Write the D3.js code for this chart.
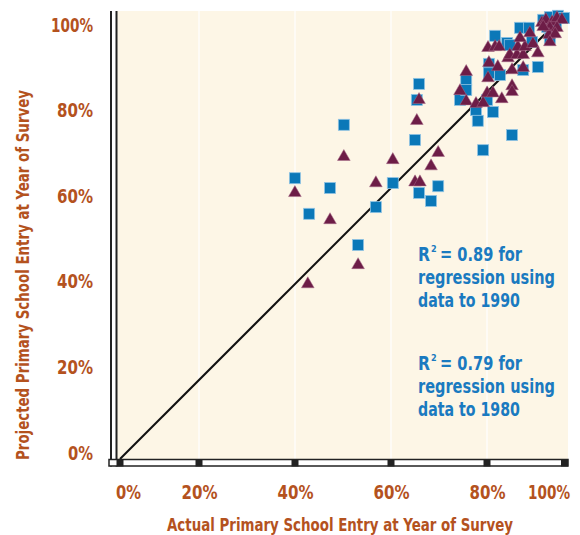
<!doctype html>
<html>
<head>
<meta charset="UTF-8">
<title>Projected vs Actual Primary School Entry</title>
<style>
    body { margin: 0; background: #fff; }
    svg text {
        font-family: "Liberation Sans Narrow", "DejaVu Sans Condensed", "Roboto", sans-serif;
        font-weight: bold;
    }
    .tick text { fill: #b4521e; font-size: 19px; }
    .axis-title { fill: #b4521e; font-size: 17px; }
    .note { fill: #1a7ac0; font-size: 20px; }
    .note.sup { font-size: 9px; }
</style>
</head>
<body>
<svg id="chart" width="580" height="535"></svg>
<script src="https://cdn.jsdelivr.net/npm/d3@7"></script>
<script>
// tick values (percent)
var ticks = [0, 20, 40, 60, 80, 100];

// [actual %, projected %] - regression using data to 1990 (squares)
var squares1990 = [
    [39.3, 63.1], [42.5, 55.1], [47.2, 60.9], [50.3, 75.1], [53.5, 48.1],
    [57.5, 56.6], [61.3, 62.0], [66.3, 71.7], [66.7, 80.7], [67.2, 84.3],
    [67.2, 59.8], [69.9, 58.0], [71.5, 61.3], [76.4, 80.7], [77.8, 85.2],
    [77.8, 82.9], [80.0, 78.4], [80.4, 76.0], [81.6, 69.4], [82.5, 80.7],
    [82.9, 88.8], [82.9, 86.7], [83.8, 78.0], [84.3, 95.1], [85.4, 86.3],
    [87.0, 93.5], [87.6, 93.0], [88.1, 72.8], [89.9, 96.9], [90.6, 87.4],
    [91.9, 96.9], [92.6, 93.7], [93.9, 88.1], [95.1, 98.7], [96.0, 97.1],
    [96.6, 99.3], [96.6, 94.6], [98.4, 99.6], [99.8, 99.1], [98.0, 97.8]
];

// [actual %, projected %] - regression using data to 1980 (triangles)
var triangles1980 = [
    [39.3, 59.8], [42.2, 39.3], [47.2, 53.7], [50.3, 67.9], [53.5, 43.6],
    [57.5, 62.0], [61.3, 67.2], [66.3, 62.2], [67.4, 62.2], [66.7, 76.0],
    [67.2, 80.7], [69.9, 65.8], [71.5, 68.8], [76.4, 82.7], [77.8, 80.4],
    [77.8, 87.0], [80.0, 79.8], [81.6, 80.0], [82.5, 82.2], [83.8, 82.2],
    [82.7, 92.4], [84.3, 92.6], [85.2, 92.6], [82.9, 89.0], [82.7, 85.6],
    [84.9, 88.1], [85.8, 80.9], [88.1, 83.8], [88.1, 82.5], [87.2, 90.1],
    [87.6, 90.8], [89.2, 90.8], [90.6, 90.8], [89.4, 92.6], [91.0, 92.6],
    [89.9, 94.6], [92.1, 95.7], [92.8, 93.3], [93.9, 91.2], [88.1, 87.4],
    [90.6, 87.9], [94.8, 98.0], [95.7, 98.7], [97.1, 98.2], [98.2, 99.1],
    [99.3, 98.7], [96.6, 96.9], [98.2, 96.9], [96.4, 95.3], [97.8, 95.5],
    [96.6, 93.7], [95.1, 97.1]
];

var notes = [
    ["0.89", "1990"],
    ["0.79", "1980"]
];

var svg = d3.select("#chart");

// data scales: frame corner to frame corner
var x = d3.scaleLinear().domain([0, 100]).range([120, 565]);
var y = d3.scaleLinear().domain([0, 100]).range([459, 14]);

// where the printed ticks sit
var xTick = d3.scaleLinear().domain(ticks).range([120, 199, 295, 391, 487, 564.5]);
var yTick = d3.scaleLinear().domain([0, 100]).range([453, 25]);

// label widths, the print uses a condensed face
function labelWidth(d) {
    return d === 0 ? 25 : (d === 100 ? 42 : 36);
}

// squeeze a text horizontally to a given width
function note(str, tx, ty, w, cls) {
    var t = svg.append("text").attr("class", cls || "note").text(str);
    var sx = w ? w / t.node().getComputedTextLength() : 1;
    t.attr("transform", "translate(" + tx + "," + ty + ") scale(" + sx + ",1)");
    return t;
}

// cream panel
svg.append("rect")
    .attr("x", 117).attr("y", 11)
    .attr("width", 451).attr("height", 448)
    .attr("fill", "#fdf6e6");

// white grid lines
svg.selectAll(".grid")
    .data(ticks.slice(1, -1))
    .enter()
    .append("line")
    .attr("class", "grid")
    .attr("x1", d => xTick(d)).attr("x2", d => xTick(d))
    .attr("y1", 11).attr("y2", 459)
    .attr("stroke", "#fff")
    .attr("stroke-width", 1.2);

// 45 degree line
svg.append("path")
    .datum([[0, 0], [100, 100]])
    .attr("d", d3.line().x(d => x(d[0])).y(d => y(d[1])))
    .attr("stroke", "#111")
    .attr("stroke-width", 2)
    .attr("fill", "none");

// squares
var s = 11;
svg.selectAll(".sq")
    .data(squares1990)
    .enter()
    .append("rect")
    .attr("class", "sq")
    .attr("x", d => x(d[0]) - s / 2)
    .attr("y", d => y(d[1]) - s / 2)
    .attr("width", s).attr("height", s)
    .attr("fill", "#0b78b8")
    .attr("stroke", "#8fc3e3")
    .attr("stroke-width", 0.8);

// triangles
svg.selectAll(".tri")
    .data(triangles1980)
    .enter()
    .append("path")
    .attr("class", "tri")
    .attr("d", d3.symbol(d3.symbolTriangle, 70))
    .attr("transform", d => "translate(" + x(d[0]) + "," + y(d[1]) + ")")
    .attr("fill", "#6d1d47")
    .attr("stroke", "#a66a88")
    .attr("stroke-width", 0.5);

// frame: double left rule
[111, 116.5].forEach(function(lx) {
    svg.append("line")
        .attr("x1", lx).attr("x2", lx)
        .attr("y1", 11).attr("y2", 466.5)
        .attr("stroke", "#222")
        .attr("stroke-width", 2);
});

// bottom bar with tick blocks
svg.append("rect")
    .attr("x", 109).attr("y", 459.5)
    .attr("width", 459).attr("height", 6.5)
    .attr("fill", "#fff")
    .attr("stroke", "#222")
    .attr("stroke-width", 1.5);

svg.selectAll(".block")
    .data(ticks)
    .enter()
    .append("rect")
    .attr("class", "block")
    .attr("x", d => xTick(d) - 3.5)
    .attr("y", 459)
    .attr("width", 7).attr("height", 7.5)
    .attr("fill", "#222");

// y axis labels
var yAxis = svg.append("g")
    .attr("transform", "translate(93,0)")
    .call(d3.axisLeft(yTick).tickValues(ticks).tickFormat(d => d + "%").tickSize(0).tickPadding(0));
yAxis.select(".domain").remove();
yAxis.selectAll("text")
    .attr("font-family", null).attr("font-size", null)
    .attr("textLength", d => labelWidth(d))
    .attr("lengthAdjust", "spacingAndGlyphs");

// x axis labels
var xAxis = svg.append("g")
    .attr("transform", "translate(0,485)")
    .call(d3.axisBottom(xTick).tickValues(ticks).tickFormat(d => d + "%").tickSize(0).tickPadding(0));
xAxis.select(".domain").remove();
xAxis.selectAll("text")
    .attr("font-family", null).attr("font-size", null)
    .attr("textLength", d => labelWidth(d))
    .attr("lengthAdjust", "spacingAndGlyphs")
    .attr("dx", (d, i) => i === 0 ? 8 : (i === ticks.length - 1 ? -16 : 0));
svg.selectAll(".tick line").remove();

// axis titles
svg.append("text")
    .attr("class", "axis-title")
    .attr("x", 340).attr("y", 531)
    .attr("text-anchor", "middle")
    .attr("textLength", 346)
    .attr("lengthAdjust", "spacingAndGlyphs")
    .text("Actual Primary School Entry at Year of Survey");

svg.append("text")
    .attr("class", "axis-title")
    .attr("transform", "translate(29,275) rotate(-90)")
    .attr("text-anchor", "middle")
    .attr("textLength", 370)
    .attr("lengthAdjust", "spacingAndGlyphs")
    .text("Projected Primary School Entry at Year of Survey");

// R squared notes
notes.forEach(function(n, i) {
    var top = 261 + i * 109;
    note("R", 418, top, 12);
    note("2", 431, top - 9, 0, "note sup");
    note("= " + n[0] + " for", 440, top, 82);
    note("regression using", 418, top + 23, 137);
    note("data to " + n[1], 418, top + 46, 102);
});
</script>
</body>
</html>
